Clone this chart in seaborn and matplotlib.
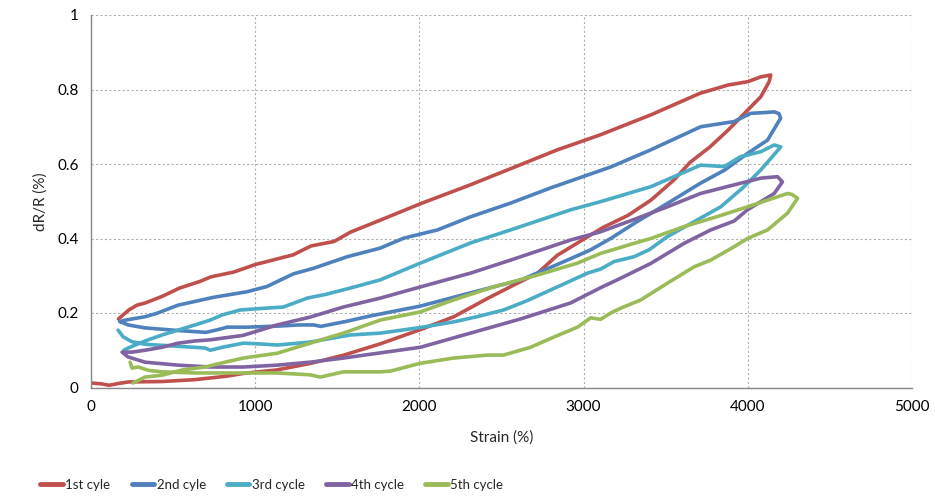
import numpy as np
import pandas as pd
import matplotlib
matplotlib.use("Agg")
import matplotlib.pyplot as plt
import seaborn as sns
from matplotlib.lines import Line2D

cycles = ["1st cyle", "2nd cyle", "3rd cycle", "4th cycle", "5th cycle"]
colors = ["#C0504D", "#4F81BD", "#4BACC6", "#8064A2", "#9BBB59"]

# 1st cycle: loading branch then unloading branch
c1_x = [0, 60, 110, 170, 230, 430, 630, 820, 930, 1130, 1340, 1540, 1760, 2010, 2210, 2410, 2570,
        2720, 2840, 3000, 3120, 3270, 3410, 3550, 3650, 3770, 3880, 4000, 4080, 4130, 4140,
        4080, 4000, 3880, 3710, 3410, 3100, 2840, 2570, 2310, 2010, 1760, 1580, 1480, 1340, 1230,
        1150, 1000, 870, 730, 665, 540, 430, 330, 280, 230, 167]
c1_y = [0.012, 0.010, 0.006, 0.011, 0.015, 0.016, 0.021, 0.030, 0.038, 0.047, 0.065, 0.087, 0.117,
        0.156, 0.190, 0.238, 0.274, 0.307, 0.355, 0.398, 0.430, 0.462, 0.503, 0.557, 0.605, 0.646,
        0.691, 0.745, 0.781, 0.821, 0.839,
        0.834, 0.821, 0.812, 0.790, 0.732, 0.678, 0.638, 0.590, 0.544, 0.494, 0.449, 0.417, 0.392,
        0.380, 0.356, 0.347, 0.330, 0.310, 0.297, 0.285, 0.267, 0.244, 0.227, 0.221, 0.208, 0.184]

c2_x = [177, 226, 329, 530, 700, 770, 830, 950, 1150, 1270, 1355, 1400, 1560, 1700, 1770, 2010, 2310,
        2620, 2860, 3040, 3165, 3310, 3510, 3710, 3860, 4000, 4120, 4200,
        4190, 4161, 4100, 4018, 3917, 3713, 3409, 3165, 2800, 2555, 2310, 2110, 1905, 1760, 1560,
        1355, 1232, 1071, 949, 745, 530, 400, 330, 250, 200, 177]
c2_y = [0.177, 0.168, 0.160, 0.153, 0.148, 0.155, 0.162, 0.162, 0.165, 0.168, 0.168, 0.164, 0.178,
        0.192, 0.198, 0.219, 0.254, 0.289, 0.334, 0.369, 0.400, 0.441, 0.494, 0.548, 0.584, 0.629,
        0.664, 0.723,
        0.735, 0.740, 0.738, 0.736, 0.714, 0.700, 0.638, 0.592, 0.536, 0.495, 0.458, 0.423, 0.401,
        0.374, 0.351, 0.320, 0.305, 0.271, 0.257, 0.242, 0.221, 0.199, 0.190, 0.184, 0.180, 0.177]

c3_x = [165, 196, 248, 329, 553, 695, 726, 800, 927, 1030, 1134, 1335, 1579, 1762, 2006, 2207, 2350,
        2512, 2650, 2840, 3024, 3104, 3185, 3307, 3400, 3510, 3652, 3835, 3977, 4079, 4201,
        4161, 4079, 3957, 3856, 3713, 3409, 3104, 2921, 2555, 2311, 2006, 1762, 1579, 1430, 1317,
        1171, 1030, 908, 800, 726, 634, 433, 330, 226, 200]
c3_y = [0.154, 0.136, 0.123, 0.116, 0.110, 0.106, 0.100, 0.108, 0.119, 0.117, 0.114, 0.122, 0.141,
        0.146, 0.161, 0.176, 0.190, 0.208, 0.232, 0.270, 0.307, 0.318, 0.338, 0.351, 0.370, 0.405,
        0.440, 0.485, 0.539, 0.584, 0.646,
        0.651, 0.633, 0.620, 0.593, 0.597, 0.539, 0.499, 0.477, 0.423, 0.388, 0.334, 0.289, 0.267,
        0.250, 0.240, 0.216, 0.212, 0.208, 0.195, 0.181, 0.168, 0.141, 0.125, 0.106, 0.100]

c4_x = [189, 226, 329, 530, 726, 927, 1134, 1335, 1537, 1730, 2006, 2311, 2616, 2921, 3104, 3205,
        3409, 3612, 3774, 3917, 3998, 4161, 4211,
        4181, 4079, 3917, 3713, 3510, 3300, 3104, 2921, 2555, 2311, 2006, 1762, 1537, 1335, 1134,
        927, 726, 634, 530, 433, 329, 250, 200]
c4_y = [0.095, 0.082, 0.068, 0.060, 0.055, 0.055, 0.060, 0.068, 0.079, 0.091, 0.108, 0.146, 0.184,
        0.227, 0.268, 0.289, 0.333, 0.387, 0.423, 0.447, 0.477, 0.521, 0.552,
        0.566, 0.562, 0.544, 0.521, 0.485, 0.450, 0.418, 0.396, 0.342, 0.307, 0.270, 0.240, 0.216,
        0.189, 0.168, 0.140, 0.128, 0.125, 0.119, 0.108, 0.100, 0.095, 0.095]

c5_x = [238, 250, 287, 350, 433, 634, 817, 1134, 1335, 1396, 1537, 1762, 1823, 2006, 2207, 2415,
        2512, 2677, 2817, 2963, 3043, 3104, 3165, 3226, 3348, 3510, 3673, 3774, 3917, 3998, 4120,
        4242, 4303,
        4270, 4242, 4120, 3998, 3815, 3612, 3409, 3307, 3104, 2963, 2720, 2451, 2207, 2006, 1762,
        1537, 1335, 1134, 927, 817, 695, 555, 433, 329, 256]
c5_y = [0.068, 0.052, 0.055, 0.046, 0.042, 0.039, 0.039, 0.039, 0.034, 0.028, 0.042, 0.042, 0.044,
        0.065, 0.079, 0.087, 0.087, 0.108, 0.135, 0.162, 0.187, 0.183, 0.200, 0.213, 0.235, 0.280,
        0.324, 0.342, 0.378, 0.400, 0.423, 0.468, 0.508,
        0.518, 0.521, 0.503, 0.485, 0.459, 0.432, 0.400, 0.387, 0.360, 0.334, 0.302, 0.270, 0.235,
        0.203, 0.181, 0.146, 0.119, 0.092, 0.079, 0.068, 0.055, 0.047, 0.033, 0.028, 0.012]

x_ticks = [0, 1000, 2000, 3000, 4000, 5000]
y_ticks = [0, 0.2, 0.4, 0.6, 0.8, 1]
y_tick_labels = ["0", "0.2", "0.4", "0.6", "0.8", "1"]

frames = []
for name, xs, ys in zip(cycles, [c1_x, c2_x, c3_x, c4_x, c5_x], [c1_y, c2_y, c3_y, c4_y, c5_y]):
    frames.append(pd.DataFrame({"strain": xs, "dr": ys, "cycle": name}))
df = pd.concat(frames, ignore_index=True)

sns.set_style("white")
plt.rcParams["font.family"] = ["Lato", "DejaVu Sans"]

fig = plt.figure(figsize=(9.35, 4.97), dpi=100)
ax = fig.add_axes([91 / 935, 1 - 387.5 / 497, (912 - 91) / 935, (387.5 - 15) / 497])

sns.lineplot(data=df, x="strain", y="dr", hue="cycle", palette=dict(zip(cycles, colors)),
             sort=False, estimator=None, linewidth=2.6, legend=False, ax=ax)

ax.set_xlim(0, 5000)
ax.set_ylim(0, 1)
ax.set_xticks(x_ticks)
ax.set_xticklabels([str(t) for t in x_ticks], fontsize=11)
ax.set_yticks(y_ticks)
ax.set_yticklabels(y_tick_labels, fontsize=11)
ax.grid(True, color="#b0b0b0", linestyle=(0, (2, 2)), linewidth=0.8)
ax.set_axisbelow(True)
for s in ["top", "right"]:
    ax.spines[s].set_visible(False)
for s in ["left", "bottom"]:
    ax.spines[s].set_color("#868686")
    ax.spines[s].set_linewidth(1.0)
ax.tick_params(axis="both", direction="out", length=5, color="#868686", width=1.0, pad=4,
               labelcolor="black")
ax.set_xlabel("Strain (%)", fontsize=11, labelpad=12)
ax.set_ylabel("dR/R (%)", fontsize=11, labelpad=7)

handles = [Line2D([0], [0], color=c, lw=3.5) for c in colors]
fig.legend(handles, cycles, loc="center left", bbox_to_anchor=(31 / 935, 1 - 485 / 497),
           ncol=5, frameon=False, fontsize=9.5, handlelength=1.7, handletextpad=0.2,
           columnspacing=1.6, borderpad=0.2)

fig.savefig("out.png", dpi=100)
